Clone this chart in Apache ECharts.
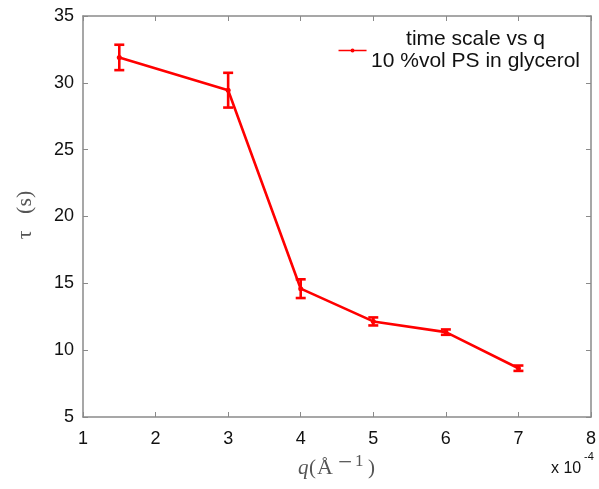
<!DOCTYPE html>
<html><head><meta charset="utf-8">
<script src="https://cdn.jsdelivr.net/npm/echarts@6/dist/echarts.min.js"></script>
<style>html,body{margin:0;padding:0;background:#fff}#c{width:599px;height:489px}</style>
</head><body><div id="c"></div>
<script>
const qVals = [1.5, 3, 4, 5, 6, 7];          // x 10^-4 Å^-1
const tauVals = [31.9, 29.45, 14.6, 12.15, 11.35, 8.65];
const tauErr = [0.95, 1.3, 0.7, 0.3, 0.2, 0.2];
const xTicks = [1, 2, 3, 4, 5, 6, 7, 8];
const yTicks = [5, 10, 15, 20, 25, 30, 35];
const legendLines = ['time scale vs q', '10 %vol PS in glycerol'];
const seriesName = legendLines.join(' / ');

const chart = echarts.init(document.getElementById('c'), null, {renderer: 'canvas'});
const axisGray = '#8a8a8a';
const lineData = qVals.map((q, i) => [q, tauVals[i]]);
const errData = qVals.map((q, i) => [q, tauVals[i] - tauErr[i], tauVals[i] + tauErr[i]]);
const sans = 'Liberation Sans, Arial, sans-serif';
const serif = 'Liberation Serif, serif';
const labelFont = {color: '#111', fontSize: 18, fontFamily: sans};
const axisCommon = {
  axisLine: {show: true, lineStyle: {color: axisGray, width: 1.5}},
  axisTick: {show: true, inside: true, length: 5, lineStyle: {color: axisGray}},
  splitLine: {show: false}
};

chart.setOption({
  animation: false,
  grid: {left: 83, right: 6, top: 16, bottom: 72, containLabel: false},
  legend: {
    show: true, right: 14, top: 24, orient: 'vertical',
    itemWidth: 28, itemHeight: 10, itemGap: 0,
    data: [{name: seriesName, icon: 'path://M0,4.3L28,4.3L28,5.7L0,5.7Z M12,5A2,2 0 1 1 16,5A2,2 0 1 1 12,5Z'}],
    textStyle: {color: '#111', fontFamily: sans, fontSize: 21,
      rich: {c: {width: 208, align: 'center', fontSize: 21, lineHeight: 22, color: '#111', fontFamily: sans}}},
    formatter: () => legendLines.map(s => '{c|' + s + '}').join('\n')
  },
  xAxis: [Object.assign({
    type: 'value', min: xTicks[0], max: xTicks[xTicks.length - 1], interval: 1,
    axisLabel: Object.assign({margin: 13}, labelFont)
  }, axisCommon), Object.assign({
    type: 'value', position: 'top', min: xTicks[0], max: xTicks[xTicks.length - 1], interval: 1,
    axisLabel: {show: false}
  }, axisCommon)],
  yAxis: [Object.assign({
    type: 'value', min: yTicks[0], max: yTicks[yTicks.length - 1], interval: 5,
    axisLabel: Object.assign({margin: 9}, labelFont)
  }, axisCommon), Object.assign({
    type: 'value', position: 'right', min: yTicks[0], max: yTicks[yTicks.length - 1], interval: 5,
    axisLabel: {show: false}
  }, axisCommon)],
  series: [{
    name: seriesName, type: 'line', data: lineData,
    lineStyle: {color: '#ff0000', width: 2.6},
    itemStyle: {color: '#ff0000'},
    symbol: 'circle', symbolSize: 5, z: 3
  }, {
    type: 'custom', data: errData, z: 4,
    renderItem: (params, api) => {
      const x = api.value(0);
      const lo = api.coord([x, api.value(1)]);
      const hi = api.coord([x, api.value(2)]);
      const w = 5;
      const st = {stroke: '#ff0000', lineWidth: 2.6};
      return {type: 'group', children: [
        {type: 'line', shape: {x1: lo[0], y1: lo[1], x2: hi[0], y2: hi[1]}, style: st},
        {type: 'line', shape: {x1: lo[0] - w, y1: lo[1], x2: lo[0] + w, y2: lo[1]}, style: st},
        {type: 'line', shape: {x1: hi[0] - w, y1: hi[1], x2: hi[0] + w, y2: hi[1]}, style: st}
      ]};
    }
  }],
  graphic: [
    {type: 'text', x: 25, y: 215, rotation: Math.PI / 2,
     style: {text: 'τ   (s)', fontSize: 22, fill: '#555', fontFamily: serif, align: 'center', verticalAlign: 'middle'}},
    {type: 'text', x: 298, y: 468, style: {text: 'q', fontSize: 21, fontStyle: 'italic', fill: '#555', fontFamily: serif, verticalAlign: 'middle'}},
    {type: 'text', x: 309, y: 468, style: {text: '(', fontSize: 21, fill: '#555', fontFamily: serif, verticalAlign: 'middle'}},
    {type: 'text', x: 317, y: 468, style: {text: 'Å', fontSize: 22, fill: '#555', fontFamily: serif, verticalAlign: 'middle'}},
    {type: 'text', x: 338, y: 463, style: {text: '−', fontSize: 25, fill: '#555', fontFamily: serif, verticalAlign: 'middle'}},
    {type: 'text', x: 355, y: 462, style: {text: '1', fontSize: 17, fill: '#555', fontFamily: serif, verticalAlign: 'middle'}},
    {type: 'text', x: 368, y: 468, style: {text: ')', fontSize: 21, fill: '#555', fontFamily: serif, verticalAlign: 'middle'}},
    {type: 'text', x: 551, y: 469, style: {text: 'x 10', fontSize: 16, fill: '#111', fontFamily: sans, verticalAlign: 'middle'}},
    {type: 'text', x: 584, y: 457, style: {text: '-4', fontSize: 11, fill: '#111', fontFamily: sans, verticalAlign: 'middle'}}
  ]
});
</script></body></html>
